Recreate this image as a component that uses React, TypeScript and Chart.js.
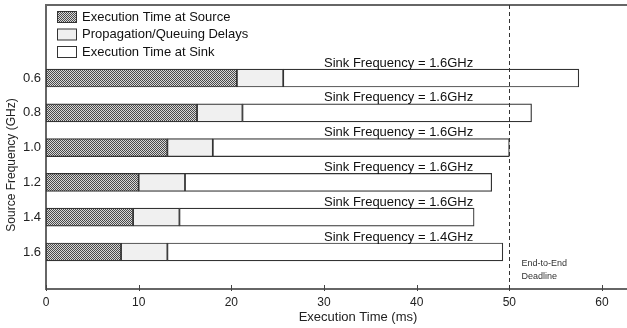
import React, { useEffect, useRef } from "react";
import { Chart, registerables } from "chart.js";

Chart.register(...registerables);

const categories = [0.6, 0.8, 1.0, 1.2, 1.4, 1.6];
const sourceTime = [20.6, 16.3, 13.1, 10.0, 9.4, 8.1];
const propDelay = [5.0, 4.9, 4.9, 5.0, 5.0, 5.0];
const sinkTime = [31.9, 31.2, 32.0, 33.1, 31.8, 36.2];
const sinkFreqLabels = [
  "Sink Frequency = 1.6GHz",
  "Sink Frequency = 1.6GHz",
  "Sink Frequency = 1.6GHz",
  "Sink Frequency = 1.6GHz",
  "Sink Frequency = 1.6GHz",
  "Sink Frequency = 1.4GHz",
];
const seriesNames = [
  "Execution Time at Source",
  "Propagation/Queuing Delays",
  "Execution Time at Sink",
];
const xTicks = [0, 10, 20, 30, 40, 50, 60];
const deadline = 50;
const annotationX = 30;
const FONT = "'Liberation Sans', Arial, Helvetica, sans-serif";

function makeHatch(): CanvasPattern | string {
  const c = document.createElement("canvas");
  c.width = 4;
  c.height = 4;
  const g = c.getContext("2d");
  if (!g) return "#888";
  g.fillStyle = "#d8d8d8";
  g.fillRect(0, 0, 4, 4);
  g.fillStyle = "#4a4a4a";
  for (let y = 0; y < 4; y++) {
    for (let x = 0; x < 4; x++) {
      if ((x + y) % 2 === 0) g.fillRect(x, y, 1, 1);
    }
  }
  const p = g.createPattern(c, "repeat");
  return p || "#888";
}

export default function App() {
  const ref = useRef<HTMLCanvasElement | null>(null);

  useEffect(() => {
    document.body.style.margin = "0";
    const canvas = ref.current;
    if (!canvas) return;
    const hatch = makeHatch();
    const fills = [hatch, "#f0f0f0", "#ffffff"];
    const values = [sourceTime, propDelay, sinkTime];

    const overlay = {
      id: "overlay",
      afterDraw(chart: any) {
        const ctx = chart.ctx;
        const xs = chart.scales.x;
        const ys = chart.scales.y;
        const area = chart.chartArea;
        ctx.save();
        // top border
        ctx.strokeStyle = "#666";
        ctx.lineWidth = 2;
        ctx.beginPath();
        ctx.moveTo(area.left - 1, area.top);
        ctx.lineTo(chart.width, area.top);
        ctx.stroke();
        // x tick marks (inside)
        ctx.lineWidth = 1;
        ctx.strokeStyle = "#444";
        xTicks.forEach((v) => {
          const px = Math.round(xs.getPixelForValue(v)) + 0.5;
          ctx.beginPath();
          ctx.moveTo(px, area.bottom - 4);
          ctx.lineTo(px, area.bottom + 2);
          ctx.stroke();
        });
        // deadline dashed line
        const dx = Math.round(xs.getPixelForValue(deadline)) + 0.5;
        ctx.setLineDash([4, 3]);
        ctx.strokeStyle = "#333";
        ctx.beginPath();
        ctx.moveTo(dx, area.top);
        ctx.lineTo(dx, area.bottom);
        ctx.stroke();
        ctx.setLineDash([]);
        // sink frequency annotations
        ctx.fillStyle = "#111";
        ctx.font = `13px ${FONT}`;
        ctx.textAlign = "left";
        ctx.textBaseline = "middle";
        categories.forEach((c, i) => {
          const py = ys.getPixelForValue(c);
          ctx.fillText(sinkFreqLabels[i], xs.getPixelForValue(annotationX), py - 15);
        });
        // deadline text
        ctx.font = `9px ${FONT}`;
        ctx.fillStyle = "#333";
        const tx = dx + 12;
        ctx.fillText("End-to-End", tx, area.bottom - 25);
        ctx.fillText("Deadline", tx, area.bottom - 12);
        // legend
        ctx.font = `13px ${FONT}`;
        seriesNames.forEach((name, i) => {
          const cy = 17 + i * 17.5;
          ctx.fillStyle = fills[i] as any;
          ctx.fillRect(57, cy - 5.5, 19, 11);
          ctx.strokeStyle = "#333";
          ctx.lineWidth = 1;
          ctx.strokeRect(57.5, cy - 5.5, 19, 11);
          ctx.fillStyle = "#111";
          ctx.fillText(name, 82, cy);
        });
        // axis titles
        ctx.font = `13px ${FONT}`;
        ctx.fillStyle = "#222";
        ctx.textAlign = "center";
        ctx.fillText("Execution Time (ms)", 358, 317);
        ctx.font = `12px ${FONT}`;
        ctx.translate(12, 165);
        ctx.rotate(-Math.PI / 2);
        ctx.fillText("Source Frequency (GHz)", 0, 0);
        ctx.restore();
      },
    };

    const chart = new Chart(canvas, {
      type: "bar",
      data: {
        datasets: values.map((arr, k) => ({
          label: seriesNames[k],
          data: arr.map((v, i) => ({ x: v, y: categories[i] })),
          backgroundColor: fills[k] as any,
          borderColor: "#333",
          borderWidth: 1.2,
          borderSkipped: false,
          barThickness: 18,
        })),
      },
      options: {
        indexAxis: "y",
        animation: false,
        responsive: false,
        maintainAspectRatio: false,
        layout: { padding: { top: 5, right: 0, left: 0, bottom: 0 } },
        plugins: {
          legend: { display: false },
          tooltip: { enabled: false },
        },
        scales: {
          x: {
            type: "linear",
            stacked: true,
            min: 0,
            max: 62.7,
            offset: false,
            afterBuildTicks: (s: any) => {
              s.ticks = xTicks.map((v) => ({ value: v }));
            },
            afterFit: (s: any) => {
              s.height = 39;
              s.paddingLeft = 0;
              s.paddingRight = 0;
            },
            grid: { display: false, drawTicks: false },
            border: { display: true, color: "#666", width: 2 },
            ticks: {
              padding: 6,
              color: "#222",
              font: { family: FONT, size: 12 },
            },
          },
          y: {
            type: "linear",
            stacked: true,
            reverse: true,
            offset: false,
            min: 0.18,
            max: 1.813,
            afterBuildTicks: (s: any) => {
              s.ticks = categories.map((v) => ({ value: v }));
            },
            afterFit: (s: any) => {
              s.width = 46;
              s.paddingTop = 0;
              s.paddingBottom = 0;
            },
            grid: { display: false, drawTicks: false, offset: false },
            border: { display: true, color: "#666", width: 2 },
            ticks: {
              padding: 5,
              color: "#222",
              font: { family: FONT, size: 13 },
              callback: (v: any) => Number(v).toFixed(1),
            },
          },
        },
      },
      plugins: [overlay],
    } as any);

    return () => chart.destroy();
  }, []);

  return (
    <div style={{ width: 627, height: 328 }}>
      <canvas ref={ref} width={627} height={328} style={{ display: "block" }} />
    </div>
  );
}
